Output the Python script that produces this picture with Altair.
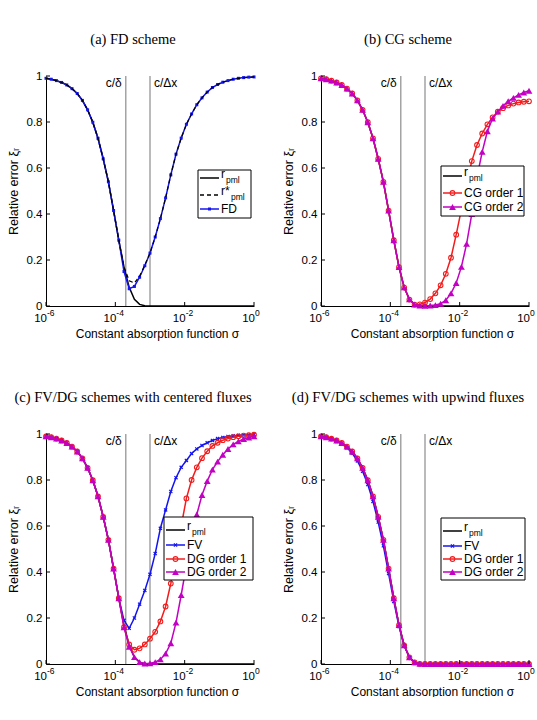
import altair as alt
import pandas as pd

# log10 of the absorption coefficient sigma at each sample
SIGMA_EXP = [-6.0, -5.85, -5.7, -5.55, -5.4, -5.25, -5.1, -4.95, -4.8, -4.65,
             -4.5, -4.35, -4.2, -4.05, -3.9, -3.75, -3.6, -3.45, -3.3, -3.15,
             -3.0, -2.85, -2.7, -2.55, -2.4, -2.25, -2.1, -1.95, -1.8, -1.65,
             -1.5, -1.35, -1.2, -1.05, -0.9, -0.75, -0.6, -0.45, -0.3, -0.15, 0.0]

R_PML = [0.990, 0.986, 0.980, 0.972, 0.961, 0.945, 0.924, 0.894, 0.853, 0.799,
         0.729, 0.640, 0.540, 0.415, 0.286, 0.169, 0.081, 0.029, 0.007, 0.001,
         0.0, 0.0, 0.0, 0.0, 0.0, 0.0, 0.0, 0.0, 0.0, 0.0,
         0.0, 0.0, 0.0, 0.0, 0.0, 0.0, 0.0, 0.0, 0.0, 0.0, 0.0]

R_STAR_PML = [0.990, 0.986, 0.980, 0.972, 0.961, 0.945, 0.924, 0.894, 0.853, 0.799,
              0.729, 0.640, 0.540, 0.415, 0.286, 0.170, 0.110, 0.100, 0.130, 0.178,
              0.230, 0.300, 0.380, 0.470, 0.570, 0.660, 0.730, 0.790, 0.835, 0.875,
              0.905, 0.930, 0.950, 0.963, 0.973, 0.980, 0.986, 0.990, 0.993, 0.995, 0.996]

FD = [0.990, 0.986, 0.980, 0.972, 0.961, 0.945, 0.924, 0.894, 0.853, 0.799,
      0.729, 0.640, 0.540, 0.415, 0.286, 0.150, 0.075, 0.085, 0.125, 0.175,
      0.230, 0.300, 0.380, 0.470, 0.570, 0.660, 0.730, 0.790, 0.835, 0.875,
      0.905, 0.930, 0.950, 0.963, 0.973, 0.980, 0.986, 0.990, 0.993, 0.995, 0.996]

CG1 = [0.990, 0.986, 0.980, 0.972, 0.961, 0.945, 0.924, 0.894, 0.853, 0.799,
       0.729, 0.640, 0.540, 0.415, 0.286, 0.169, 0.080, 0.028, 0.006, 0.007,
       0.015, 0.030, 0.055, 0.090, 0.140, 0.210, 0.310, 0.420, 0.530, 0.630,
       0.700, 0.750, 0.790, 0.820, 0.845, 0.860, 0.872, 0.880, 0.885, 0.888, 0.890]

CG2 = [0.990, 0.986, 0.980, 0.972, 0.961, 0.945, 0.924, 0.894, 0.853, 0.799,
       0.729, 0.640, 0.540, 0.415, 0.286, 0.169, 0.081, 0.029, 0.006, 0.002,
       0.001, 0.002, 0.004, 0.010, 0.025, 0.055, 0.100, 0.170, 0.270, 0.400,
       0.560, 0.670, 0.760, 0.815, 0.845, 0.870, 0.890, 0.905, 0.918, 0.928, 0.936]

FV_CENTERED = [0.990, 0.986, 0.980, 0.972, 0.961, 0.945, 0.924, 0.894, 0.853, 0.799,
               0.729, 0.640, 0.540, 0.415, 0.286, 0.190, 0.155, 0.200, 0.260, 0.320,
               0.390, 0.480, 0.590, 0.670, 0.750, 0.810, 0.855, 0.885, 0.915, 0.935,
               0.950, 0.962, 0.972, 0.980, 0.985, 0.989, 0.992, 0.994, 0.996, 0.997, 0.998]

DG1_CENTERED = [0.990, 0.986, 0.980, 0.972, 0.961, 0.945, 0.924, 0.894, 0.853, 0.799,
                0.729, 0.640, 0.540, 0.415, 0.286, 0.160, 0.085, 0.062, 0.068, 0.085,
                0.110, 0.140, 0.185, 0.250, 0.350, 0.470, 0.600, 0.720, 0.800, 0.855,
                0.895, 0.925, 0.948, 0.962, 0.973, 0.980, 0.986, 0.990, 0.993, 0.995, 0.997]

DG2_CENTERED = [0.990, 0.986, 0.980, 0.972, 0.961, 0.945, 0.924, 0.894, 0.853, 0.799,
                0.729, 0.640, 0.540, 0.415, 0.286, 0.160, 0.075, 0.030, 0.008, 0.002,
                0.003, 0.008, 0.020, 0.045, 0.090, 0.180, 0.300, 0.430, 0.550, 0.650,
                0.735, 0.795, 0.845, 0.880, 0.910, 0.935, 0.955, 0.968, 0.978, 0.985, 0.990]

FV_UPWIND = [0.990, 0.985, 0.978, 0.969, 0.957, 0.940, 0.916, 0.883, 0.838, 0.780,
             0.707, 0.617, 0.514, 0.393, 0.272, 0.163, 0.079, 0.028, 0.006, 0.001,
             0.0, 0.0, 0.0, 0.0, 0.0, 0.0, 0.0, 0.0, 0.0, 0.0,
             0.0, 0.0, 0.0, 0.0, 0.0, 0.0, 0.0, 0.0, 0.0, 0.0, 0.0]

DG1_UPWIND = [0.990, 0.986, 0.980, 0.972, 0.961, 0.945, 0.924, 0.894, 0.853, 0.799,
              0.729, 0.640, 0.540, 0.415, 0.286, 0.169, 0.081, 0.029, 0.007, 0.001,
              0.0, 0.0, 0.0, 0.0, 0.0, 0.0, 0.0, 0.0, 0.0, 0.0,
              0.0, 0.0, 0.0, 0.0, 0.0, 0.0, 0.0, 0.0, 0.0, 0.0, 0.0]

DG2_UPWIND = [0.990, 0.986, 0.980, 0.972, 0.961, 0.945, 0.924, 0.894, 0.853, 0.799,
              0.729, 0.640, 0.540, 0.415, 0.286, 0.169, 0.081, 0.029, 0.007, 0.001,
              0.0, 0.0, 0.0, 0.0, 0.0, 0.0, 0.0, 0.0, 0.0, 0.0,
              0.0, 0.0, 0.0, 0.0, 0.0, 0.0, 0.0, 0.0, 0.0, 0.0, 0.0]

# reference frequencies c/delta and c/dx
REF_SIGMA = [2e-4, 1e-3]
REF_LABELS = ["c/δ", "c/Δx"]

X_TICKS = [1e-6, 1e-4, 1e-2, 1.0]
X_TICK_EXP = ["-6", "-4", "-2", "0"]
Y_TICKS = [0.0, 0.2, 0.4, 0.6, 0.8, 1.0]

W, H = 208, 230
SANS = "Liberation Sans"
SERIF = "Liberation Serif"
BLUE = "#1414f0"
RED = "#f21c1c"
MAGENTA = "#c300c3"
GREY = "#a3a3a3"
X_SHAPE = "M-1,-1L1,1M-1,1L1,-1"

XSCALE = alt.Scale(type="log", domain=[1e-6, 1.0], nice=False)
YSCALE = alt.Scale(domain=[0, 1], nice=False, zero=False)

XAXIS = alt.Axis(values=X_TICKS, labels=False, ticks=False, grid=False,
                 domainColor="black", domainWidth=1,
                 title="Constant absorption function σ", titleFont=SANS,
                 titleFontSize=12, titleFontWeight="normal", titleColor="black",
                 titleX=111, titleY=27, titleBaseline="middle", titleAlign="center")
YAXIS = alt.Axis(values=Y_TICKS, ticks=False, grid=False, domainColor="black",
                 domainWidth=1, labelFont=SANS, labelFontSize=11.5, labelColor="black",
                 labelPadding=4,
                 labelExpr="datum.value == 0 ? '0' : datum.value == 1 ? '1' : format(datum.value, '.1f')",
                 title="Relative error ξᵣ", titleFont=SANS, titleFontSize=12.5,
                 titleFontWeight="normal", titleColor="black", titleAngle=-90,
                 titleX=-33, titleY=H / 2, titleBaseline="middle", titleAlign="center")

ONE = pd.DataFrame({"k": [0]})


def xenc():
    return alt.X("sigma:Q", scale=XSCALE, axis=XAXIS)


def yenc():
    return alt.Y("err:Q", scale=YSCALE, axis=YAXIS)


def curve_frame(values):
    return pd.DataFrame({"sigma": [10 ** e for e in SIGMA_EXP], "err": values})


def curve(values, color, dash=None, shape=None, filled=True, size=20, sw=1.5, msw=1.0):
    df = curve_frame(values)
    kw = dict(color=color, strokeWidth=sw)
    if dash:
        kw["strokeDash"] = dash
    layers = [alt.Chart(df).mark_line(**kw).encode(x=xenc(), y=yenc())]
    if shape:
        pkw = dict(shape=shape, filled=filled, size=size, color=color, opacity=1,
                   strokeWidth=msw)
        layers.append(alt.Chart(df).mark_point(**pkw).encode(x=xenc(), y=yenc()))
    return layers


def frame_layers():
    refs = pd.DataFrame({"sigma": REF_SIGMA, "label": REF_LABELS})
    rules = alt.Chart(refs).mark_rule(color=GREY, strokeWidth=1.5).encode(x=xenc())
    left_lab = alt.Chart(refs.iloc[[0]]).mark_text(
        align="right", baseline="middle", dx=-4, font=SANS, fontSize=12, color="black"
    ).encode(x=xenc(), y=alt.value(7), text="label:N")
    right_lab = alt.Chart(refs.iloc[[1]]).mark_text(
        align="left", baseline="middle", dx=4, font=SANS, fontSize=12, color="black"
    ).encode(x=xenc(), y=alt.value(7), text="label:N")
    return [rules, left_lab, right_lab]


def tick_layers():
    xt = pd.DataFrame({"sigma": X_TICKS, "exp": X_TICK_EXP})
    yt = pd.DataFrame({"err": Y_TICKS})
    xticks = alt.Chart(xt).mark_rule(color="black", strokeWidth=1).encode(
        x=xenc(), y=alt.value(H), y2=alt.value(H - 4))
    yticks = alt.Chart(yt).mark_rule(color="black", strokeWidth=1).encode(
        y=yenc(), x=alt.value(0), x2=alt.value(4))
    base_lab = alt.Chart(xt).mark_text(
        align="right", baseline="middle", dx=1, font=SANS, fontSize=11.5, color="black"
    ).encode(x=xenc(), y=alt.value(H + 13), text=alt.value("10"))
    exp_lab = alt.Chart(xt).mark_text(
        align="left", baseline="middle", dx=1, font=SANS, fontSize=8.5, color="black"
    ).encode(x=xenc(), y=alt.value(H + 7), text="exp:N")
    return [xticks, yticks, base_lab, exp_lab]


def legend_layers(box, rows):
    x0, x1, y0, y1 = box
    out = [alt.Chart(ONE).mark_rect(fill="white", stroke="black", strokeWidth=1).encode(
        x=alt.value(x0), x2=alt.value(x1), y=alt.value(y0), y2=alt.value(y1))]
    lx0, lx1 = x0 + 2, x0 + 21
    tx = x0 + 23
    for r in rows:
        y = r["y"]
        kw = dict(color=r["color"], strokeWidth=1.5)
        if r.get("dash"):
            kw["strokeDash"] = r["dash"]
        out.append(alt.Chart(ONE).mark_rule(**kw).encode(
            x=alt.value(lx0), x2=alt.value(lx1), y=alt.value(y)))
        if r.get("shape"):
            out.append(alt.Chart(ONE).mark_point(
                shape=r["shape"], filled=r["filled"], size=r["size"], color=r["color"],
                opacity=1, strokeWidth=r.get("msw", 1.0)
            ).encode(x=alt.value((lx0 + lx1) / 2), y=alt.value(y)))
        if r.get("sub"):
            out.append(alt.Chart(ONE).mark_text(
                align="left", baseline="middle", font=SANS, fontSize=12, color="black"
            ).encode(x=alt.value(tx), y=alt.value(y - 4), text=alt.value(r["label"])))
            out.append(alt.Chart(ONE).mark_text(
                align="left", baseline="middle", font=SANS, fontSize=8.5, color="black"
            ).encode(x=alt.value(tx + r["subdx"]), y=alt.value(y + 2),
                     text=alt.value(r["sub"])))
        else:
            out.append(alt.Chart(ONE).mark_text(
                align="left", baseline="middle", font=SANS, fontSize=12, color="black"
            ).encode(x=alt.value(tx), y=alt.value(y), text=alt.value(r["label"])))
    return out


def panel(title, curves, box, rows):
    layers = frame_layers()
    for c in curves:
        layers += c
    layers += tick_layers()
    layers += legend_layers(box, rows)
    return alt.layer(*layers).properties(
        width=W, height=H,
        title=alt.TitleParams(title, font=SERIF, fontSize=14.5, fontWeight="normal",
                              color="black", frame="group", offset=23, dx=-17,
                              anchor="middle"))


PML_ROW = dict(label="r", sub="pml", subdx=5, color="black")
CIRCLE = dict(shape="circle", filled=False, size=22, msw=1.1)
TRIANGLE = dict(shape="triangle-up", filled=True, size=46)
CROSS = dict(shape=X_SHAPE, filled=False, size=10, msw=1.2)
SQUARE = dict(shape="square", filled=True, size=9)

pa = panel(
    "(a) FD scheme",
    [curve(R_PML, "black"),
     curve(FD, BLUE, **SQUARE),
     curve(R_STAR_PML, "black", dash=[4, 3], sw=1.2)],
    (152, 205, 94, 142),
    [dict(PML_ROW, y=102),
     dict(label="r*", sub="pml", subdx=10, color="black", dash=[4, 3], y=119),
     dict(label="FD", color=BLUE, y=133, **SQUARE)])

pb = panel(
    "(b) CG scheme",
    [curve(R_PML, "black"),
     curve(CG1, RED, **CIRCLE),
     curve(CG2, MAGENTA, **TRIANGLE)],
    (120, 203, 90, 140),
    [dict(PML_ROW, y=100),
     dict(label="CG order 1", color=RED, y=117, **CIRCLE),
     dict(label="CG order 2", color=MAGENTA, y=131, **TRIANGLE)])

pc = panel(
    "(c) FV/DG schemes with centered fluxes",
    [curve(R_PML, "black"),
     curve(FV_CENTERED, BLUE, **CROSS),
     curve(DG1_CENTERED, RED, **CIRCLE),
     curve(DG2_CENTERED, MAGENTA, **TRIANGLE)],
    (118, 207, 83, 146),
    [dict(PML_ROW, y=96),
     dict(label="FV", color=BLUE, y=111, **CROSS),
     dict(label="DG order 1", color=RED, y=125, **CIRCLE),
     dict(label="DG order 2", color=MAGENTA, y=138, **TRIANGLE)])

pd_ = panel(
    "(d) FV/DG schemes with upwind fluxes",
    [curve(R_PML, "black"),
     curve(FV_UPWIND, BLUE, **CROSS),
     curve(DG1_UPWIND, RED, **CIRCLE),
     curve(DG2_UPWIND, MAGENTA, **TRIANGLE)],
    (120, 204, 84, 146),
    [dict(PML_ROW, y=97),
     dict(label="FV", color=BLUE, y=112, **CROSS),
     dict(label="DG order 1", color=RED, y=125, **CIRCLE),
     dict(label="DG order 2", color=MAGENTA, y=138, **TRIANGLE)])

chart = alt.concat(
    pa, pb, pc, pd_, columns=2,
    spacing=alt.RowColnumber(row=128, column=67), bounds="flush"
).properties(
    padding={"left": 7, "top": 31, "right": 0, "bottom": 0},
    background="white",
).configure_view(stroke=None)

chart.save("out.html", embed_options={"renderer": "svg", "actions": False})
